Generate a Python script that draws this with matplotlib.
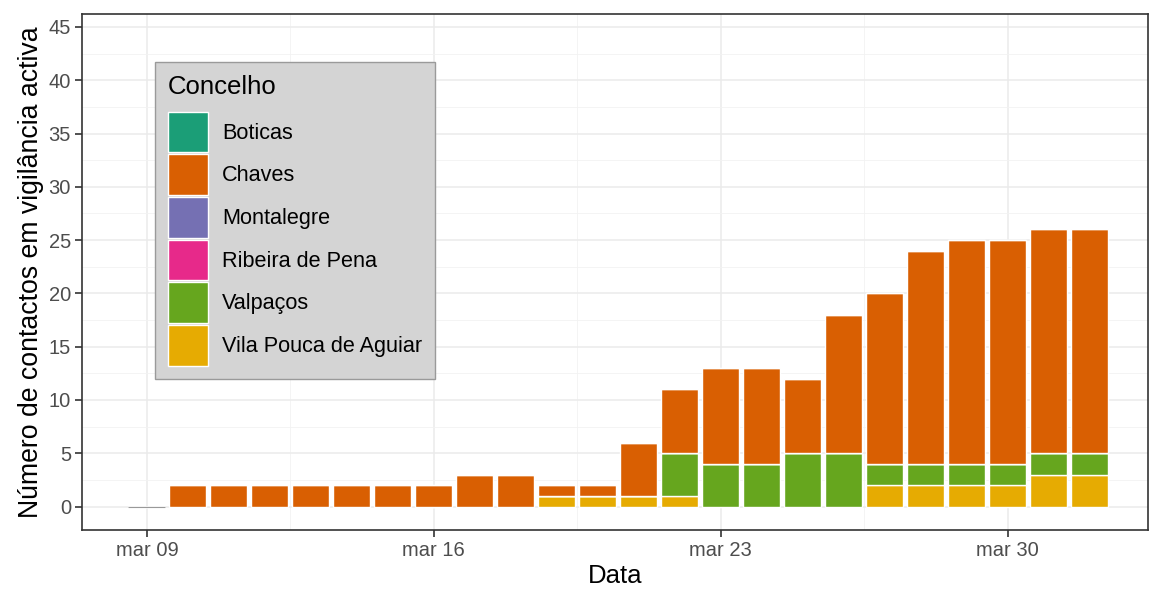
import numpy as np
import pandas as pd
import matplotlib
matplotlib.use("Agg")
import matplotlib.pyplot as plt
from matplotlib.patches import Patch

plt.rcParams['font.family'] = ['Liberation Sans', 'DejaVu Sans']

# ----------------------------
# Datos
# ----------------------------
datas = pd.date_range('2020-03-09', '2020-04-01', freq='D')
concelhos = ['Boticas', 'Chaves', 'Montalegre', 'Ribeira de Pena',
             'Valpaços', 'Vila Pouca de Aguiar']
cores = ['#1B9E77', '#D95F02', '#7570B3', '#E7298A', '#66A61E', '#E6AB02']

boticas = [0] * 24
chaves = [0, 2, 2, 2, 2, 2, 2, 2, 3, 3, 1, 1, 5, 6, 9, 9, 7, 13, 16, 20, 21, 21, 21, 21]
montalegre = [0] * 24
ribeira = [0] * 24
valpacos = [0, 0, 0, 0, 0, 0, 0, 0, 0, 0, 0, 0, 0, 4, 4, 4, 5, 5, 2, 2, 2, 2, 2, 2]
vila_pouca = [0, 0, 0, 0, 0, 0, 0, 0, 0, 0, 1, 1, 1, 1, 0, 0, 0, 0, 2, 2, 2, 2, 3, 3]

xticks = ['2020-03-09', '2020-03-16', '2020-03-23', '2020-03-30']
xtick_labels = ['mar 09', 'mar 16', 'mar 23', 'mar 30']

# ----------------------------
# Figura
# ----------------------------
fig = plt.figure(figsize=(11.5, 5.92), dpi=100)
ax = fig.add_axes([0.0713, 0.1047, 0.9267, 0.8713])

# orden de apilado: primer nivel arriba (como ggplot)
series = [boticas, chaves, montalegre, ribeira, valpacos, vila_pouca]
bottom = np.zeros(len(datas))
for vals, cor in zip(series[::-1], cores[::-1]):
    vals = np.array(vals, dtype=float)
    ax.bar(datas, vals, bottom=bottom, width=0.9, color=cor,
           edgecolor='white', linewidth=1.0, zorder=3)
    bottom += vals

# dias con total cero: linea fina
total = bottom
for d, t in zip(datas, total):
    if t == 0:
        ax.hlines(0, d - pd.Timedelta(hours=10.8), d + pd.Timedelta(hours=10.8),
                  color='#999999', lw=0.8, zorder=3)

ax.set_xticks(pd.to_datetime(xticks))
ax.set_xticklabels(xtick_labels)
minor_x = pd.to_datetime(xticks) - pd.Timedelta(hours=84)
minor_x = minor_x.append(pd.DatetimeIndex([pd.Timestamp('2020-04-02 12:00')]))
ax.set_xticks(minor_x, minor=True)
ax.set_yticks(np.arange(0, 46, 5))
ax.set_yticks(np.arange(2.5, 46, 5), minor=True)

ax.set_xlim(pd.Timestamp('2020-03-07 10:00'), pd.Timestamp('2020-04-02 10:00'))
ax.set_ylim(-2.2, 46.2)

ax.grid(which='major', color='#ebebeb', lw=1.1, zorder=0)
ax.grid(which='minor', color='#f2f2f2', lw=0.6, zorder=0)
ax.set_axisbelow(True)

ax.tick_params(which='major', length=5, width=1.2, color='#333333',
               labelsize=14.5, labelcolor='#4d4d4d', pad=3)
ax.tick_params(which='minor', length=0)
for s in ax.spines.values():
    s.set_color('#333333')
    s.set_linewidth(1.2)

ax.set_xlabel('Data', fontsize=18.5, labelpad=3)
ax.set_ylabel('Número de contactos em vigilância activa', fontsize=19.2, labelpad=3)

handles = [Patch(facecolor=c, edgecolor='white', linewidth=1.0) for c in cores]
leg = ax.legend(handles, concelhos, title='Concelho', loc='upper left',
                bbox_to_anchor=(0.0685, 0.907), borderaxespad=0,
                fontsize=15.6, title_fontsize=18.5, frameon=True, fancybox=False,
                handlelength=1.85, handleheight=2.5, labelspacing=0.1,
                handletextpad=0.65, borderpad=0.6)
leg._legend_box.align = 'left'
leg._legend_box.sep = 9
frame = leg.get_frame()
frame.set_facecolor('#d4d4d4')
frame.set_edgecolor('#9a9a9a')
frame.set_alpha(1)

fig.savefig('out.png', dpi=100)
